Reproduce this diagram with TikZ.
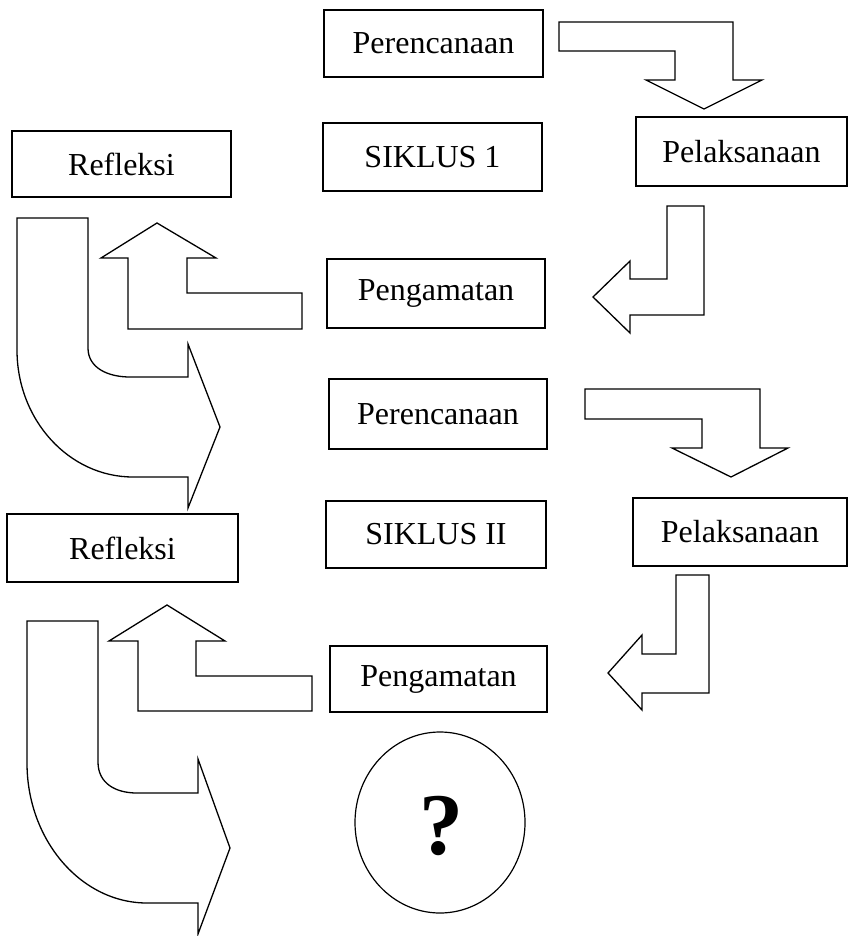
\documentclass[tikz,border=0pt]{standalone}
\usepackage{fontspec}
\setmainfont{Liberation Serif}
\usetikzlibrary{shapes.geometric}
\begin{document}
\begin{tikzpicture}[x=1pt,y=-1pt,
  box/.style={draw, line width=1.4pt, inner sep=0pt, font=\fontsize{32}{38}\selectfont},
  blockarrow/.style={draw, line width=1.3pt, line join=miter}]
\useasboundingbox (0,0) rectangle (849,936);
% boxes: cycle 1
\node[box, minimum width=219, minimum height=67] (per1) at (433.5,43.5) {Perencanaan};
\node[box, minimum width=211, minimum height=69] (pel1) at (741.5,151.5) {Pelaksanaan};
\node[box, minimum width=219, minimum height=68] (sik1) at (432.5,157) {SIKLUS 1};
\node[box, minimum width=219, minimum height=66] (ref1) at (121.5,164) {Refleksi};
\node[box, minimum width=218, minimum height=69] (pen1) at (436,293.5) {Pengamatan};
% boxes: cycle 2
\node[box, minimum width=218, minimum height=70] (per2) at (438,414) {Perencanaan};
\node[box, minimum width=214, minimum height=68] (pel2) at (740,532) {Pelaksanaan};
\node[box, minimum width=220, minimum height=67] (sik2) at (436,534.5) {SIKLUS II};
\node[box, minimum width=231, minimum height=68] (ref2) at (122.5,548) {Refleksi};
\node[box, minimum width=217, minimum height=66] (pen2) at (438.5,679) {Pengamatan};
% question circle
\node[draw, line width=1.2pt, ellipse, minimum width=170, minimum height=181, inner sep=0pt] (q) at (440,822.5) {};
\node[font=\fontsize{88}{90}\selectfont\bfseries] (qm) at (441,826) {?};
% arrow Perencanaan -> Pelaksanaan (1)
\draw[blockarrow] (559,22) -- (733,22) -- (733,80) -- (762,80) -- (704,109) -- (646,80) -- (675,80) -- (675,51) -- (559,51) -- cycle;
% arrow Pelaksanaan -> Pengamatan (1)
\draw[blockarrow] (667,206) -- (704,206) -- (704,315) -- (630,315) -- (630,333) -- (593,297) -- (630,261) -- (630,279) -- (667,279) -- cycle;
% arrow Pengamatan -> Refleksi (1)
\draw[blockarrow] (157,223) -- (216,258) -- (187,258) -- (187,293) -- (302,293) -- (302,329) -- (128,329) -- (128,258) -- (101,258) -- cycle;
% curved arrow Refleksi 1 -> Perencanaan 2
\draw[blockarrow] (17,218) -- (88,218) -- (88,348) .. controls (88,368) and (108,377) .. (130,377) -- (188,377) -- (188,344) -- (220,427) -- (188,508) -- (188,477) -- (133,477) .. controls (69,477) and (17,420) .. (17,350) -- cycle;
% arrow Perencanaan -> Pelaksanaan (2)
\draw[blockarrow] (585,389) -- (760,389) -- (760,448) -- (788,448) -- (731,477) -- (672,448) -- (702,448) -- (702,419) -- (585,419) -- cycle;
% arrow Pelaksanaan -> Pengamatan (2)
\draw[blockarrow] (676,575) -- (709,575) -- (709,693) -- (642,693) -- (642,710) -- (608,673) -- (642,635) -- (642,654) -- (676,654) -- cycle;
% arrow Pengamatan -> Refleksi (2)
\draw[blockarrow] (167,605) -- (225,641) -- (196,641) -- (196,676) -- (312,676) -- (312,711) -- (138,711) -- (138,641) -- (109,641) -- cycle;
% curved arrow Refleksi 2 -> ?
\draw[blockarrow] (27,621) -- (98,621) -- (98,762) .. controls (98,783) and (115,793) .. (137,793) -- (198,793) -- (198,759) -- (230,848) -- (198,934) -- (198,903) -- (147,903) .. controls (81,903) and (27,840) .. (27,763) -- cycle;
\end{tikzpicture}
\end{document}
